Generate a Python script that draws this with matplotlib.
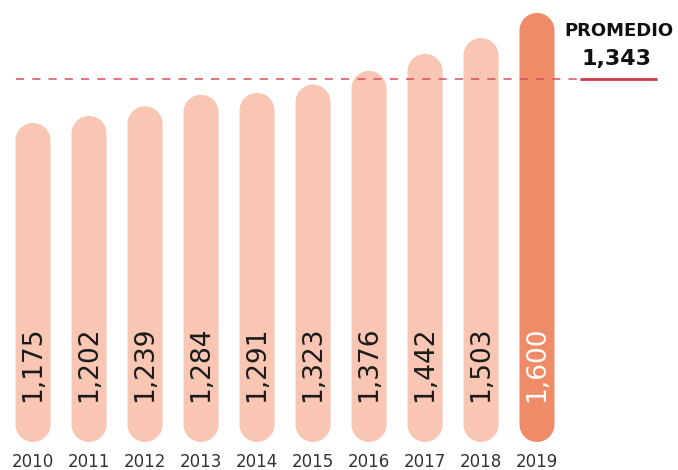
import matplotlib
matplotlib.use('Agg')
import matplotlib.pyplot as plt
import numpy as np
from matplotlib.path import Path
from matplotlib.patches import PathPatch

years = ['2010', '2011', '2012', '2013', '2014', '2015', '2016', '2017', '2018', '2019']
values = [1175, 1202, 1239, 1284, 1291, 1323, 1376, 1442, 1503, 1600]
average = 1343
average_title = 'PROMEDIO'
average_label = '1,343'

light = '#F8C6B3'
dark = '#F08B68'

fig = plt.figure(figsize=(6.78, 4.70), dpi=100)
ax = fig.add_axes([0, 28 / 470, 1, 442 / 470])
base = -58
ax.set_ylim(base, 1650)
ax.set_xlim(-33 / 56, (678 - 33) / 56)
ax.axis('off')

bar_w = 0.625
fig.canvas.draw()
p0 = ax.transData.transform((0, 0))
p1 = ax.transData.transform((1, 1))
px_x = p1[0] - p0[0]
px_y = p1[1] - p0[1]
rx = bar_w / 2
ry = rx * px_x / px_y  # cap radius in y data units


def pill(xc, y0, y1):
    top = Path.arc(0, 180)
    bot = Path.arc(180, 360)
    tv = top.vertices * [rx, ry] + [xc, y1 - ry]
    bv = bot.vertices * [rx, ry] + [xc, y0 + ry]
    verts = np.vstack([tv, bv, tv[:1]])
    codes = list(top.codes) + [Path.LINETO] + list(bot.codes[1:]) + [Path.CLOSEPOLY]
    return Path(verts, codes)


for i, (yr, v) in enumerate(zip(years, values)):
    col = dark if i == len(values) - 1 else light
    ax.add_patch(PathPatch(pill(i, base, v), facecolor=col, edgecolor='none', zorder=2))
    tcol = 'white' if i == len(values) - 1 else '#1a1a1a'
    ax.annotate(f"{v:,}", (i, base), xytext=(0, 40 * 0.72), textcoords='offset points',
                rotation=90, ha='center', va='bottom', fontsize=19, color=tcol,
                zorder=4, annotation_clip=False)
    ax.annotate(yr, (i, base), xytext=(0, -20 * 0.72), textcoords='offset points',
                ha='center', va='center', fontsize=12, color='#333333',
                annotation_clip=False)

# average dashed line
ax.plot([-bar_w / 2, 9.77], [average, average], color='#D5505F', lw=1.3,
        dashes=(4.5, 4.5), alpha=0.85, zorder=3)
ax.plot([9.77, 11.14], [average, average], color='#D0374A', lw=2.0,
        solid_capstyle='butt', zorder=3)

fig.text(619 / 678, 1 - 31 / 470, average_title, ha='center', va='center',
         fontsize=13, fontweight='bold', color='#111111')
fig.text(617 / 678, 1 - 59 / 470, average_label, ha='center', va='center',
         fontsize=16, fontweight='bold', color='#111111')

fig.savefig('out.png', dpi=100)
